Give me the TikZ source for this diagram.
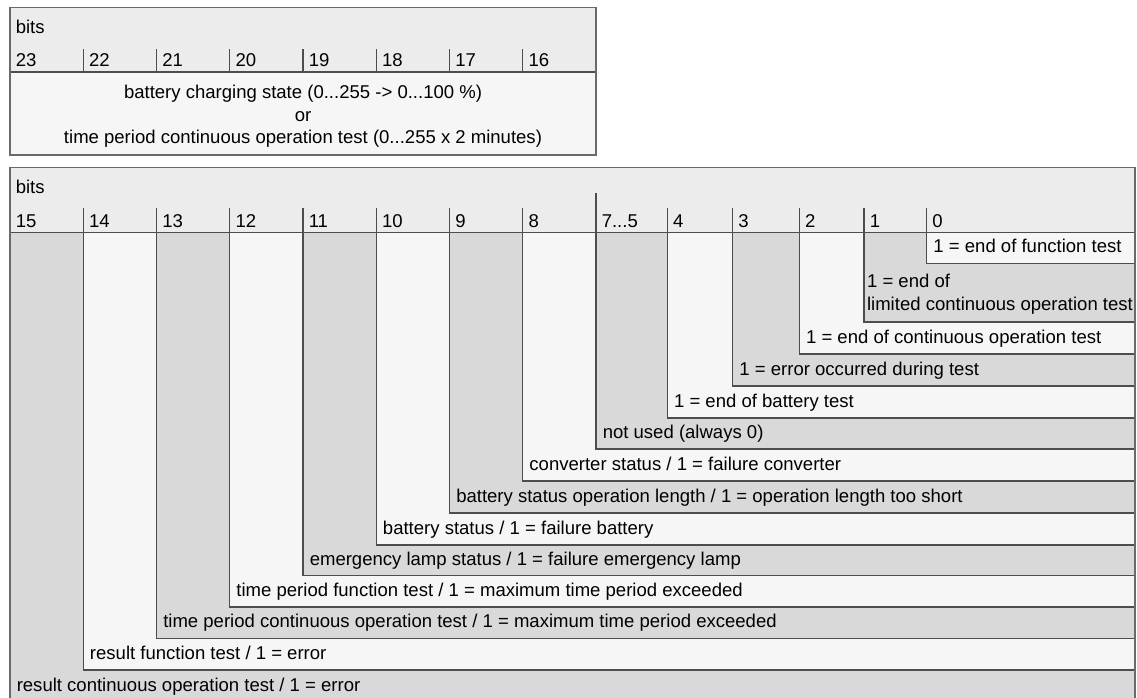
\documentclass[tikz,border=0pt]{standalone}
\usepackage{fontspec}
\setmainfont{Liberation Sans}
\usetikzlibrary{positioning}
\definecolor{hdrgray}{HTML}{ECECEC}
\definecolor{cellgray}{HTML}{D9D9D9}
\definecolor{celllight}{HTML}{F6F6F6}
\definecolor{rulec}{HTML}{4D4D4D}
\definecolor{framec}{HTML}{6A6A6A}
\newcommand\mainfs{\fontsize{13.9}{17}\selectfont}
\tikzset{
  rulel/.style={draw=rulec, line width=0.9pt},
  outline/.style={draw=framec, line width=1.1pt},
  cell/.style={draw=rulec, line width=0.9pt},
  lbl/.style={anchor=west, inner sep=0pt, font=\mainfs, text height=0.9em, text depth=0.18em},
  desc/.style={anchor=west, inner sep=0pt, font=\mainfs, align=left},
}
\begin{document}
\begin{tikzpicture}[x=0.75pt, y=-0.75pt]
  \useasboundingbox (0,0) rectangle (1137,697);
  % upper word, bits 23..16
  \fill[hdrgray] (10,7.5) rectangle (596,72);
  \fill[celllight] (10,72) rectangle (596,155);
  \draw[rulel] (10,72) -- (596,72);
  \foreach \i in {1,...,7}
    \draw[rulel] ({10+73.25*\i},49) -- ({10+73.25*\i},72);
  \draw[outline] (10,7.5) rectangle (596,155);
  \node[lbl] (hibits) at (15.5,28.5) {bits};
  \foreach \b [count=\i from 0] in {23,...,16}
    \node[lbl] (hb\b) at ({15.5+73.25*\i},62) {\b};
  \node[font=\mainfs, align=center, inner sep=0pt] (hidesc) at (303,116.5)
    {battery charging state (0...255 -> 0...100 \%)\\or\\time period continuous operation test (0...255 x 2 minutes)};

  % lower word, bits 15..0
  \fill[hdrgray] (10,167.5) rectangle (1135,232.5);
  \foreach \x/\yb/\c in {10/701/cellgray, 83.25/670/celllight, 156.5/638.5/cellgray,
      229.75/607/celllight, 303/575.5/cellgray, 376.25/545/celllight, 449.5/513/cellgray,
      522.75/481/celllight, 596/449/cellgray, 667.3/418/celllight, 732.7/386/cellgray,
      799.3/354/celllight, 864/322/cellgray, 926.7/263.5/celllight}
    \filldraw[cell, fill=\c] (\x,232.5) rectangle (1135,\yb);
  \draw[rulel] (10,232.5) -- (1135,232.5);
  \foreach \x in {83.25,156.5,229.75,303,376.25,449.5,522.75,667.3,732.7,799.3,864,926.7}
    \draw[rulel] (\x,208) -- (\x,232.5);
  \draw[rulel] (596,193) -- (596,232.5);
  \draw[outline] (10,705) -- (10,167.5) -- (1135,167.5) -- (1135,705);
  \node[lbl] (lobits) at (15.5,189) {bits};
  \foreach \x/\b in {10/15, 83.25/14, 156.5/13, 229.75/12, 303/11, 376.25/10, 449.5/9,
      522.75/8, 667.3/4, 732.7/3, 799.3/2, 864/1, 926.7/0}
    \node[lbl] (lb\b) at ({\x+5.5},222.5) {\b};
  \node[lbl] (lb75) at (601.5,222.5) {7...5};

  % bit descriptions
  \node[lbl] (d0) at (933.2,248) {1 = end of function test};
  \node[desc] (d1) at (866.8,294.5) {1 = end of\\limited continuous operation test};
  \node[lbl] (d2) at (805.8,338.5) {1 = end of continuous operation test};
  \node[lbl] (d3) at (739.2,370.5) {1 = error occurred during test};
  \node[lbl] (d4) at (673.8,402.5) {1 = end of battery test};
  \node[lbl] (d75) at (602.5,434) {not used (always 0)};
  \node[lbl] (d8) at (529.2,465.5) {converter status / 1 = failure converter};
  \node[lbl] (d9) at (456,497.5) {battery status operation length / 1 = operation length too short};
  \node[lbl] (d10) at (382.7,529.5) {battery status / 1 = failure battery};
  \node[lbl] (d11) at (309.5,560.5) {emergency lamp status / 1 = failure emergency lamp};
  \node[lbl] (d12) at (236.2,591.5) {time period function test / 1 = maximum time period exceeded};
  \node[lbl] (d13) at (163,623) {time period continuous operation test / 1 = maximum time period exceeded};
  \node[lbl] (d14) at (89.7,654.5) {result function test / 1 = error};
  \node[lbl] (d15) at (16.5,686.5) {result continuous operation test / 1 = error};
\end{tikzpicture}
\end{document}
